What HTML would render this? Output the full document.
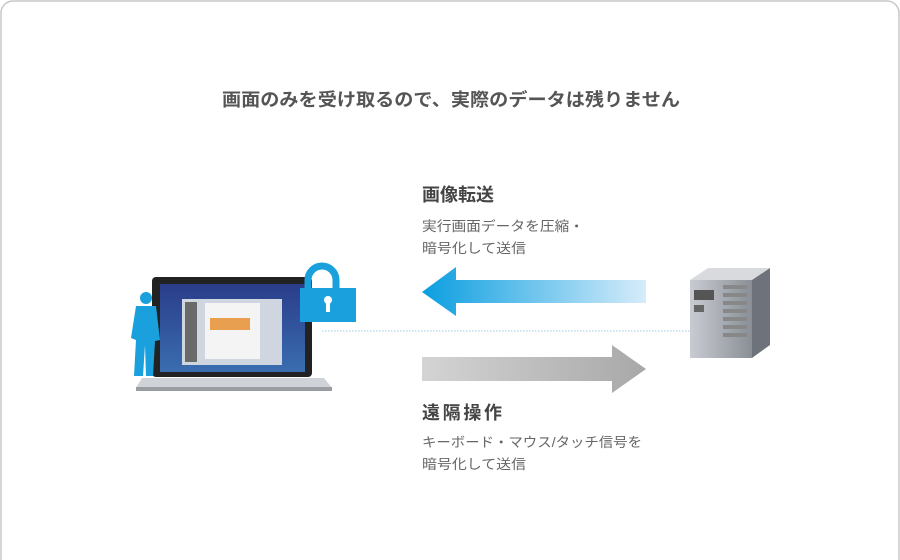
<!DOCTYPE html>
<html><head><meta charset="utf-8"><style>
body{margin:0;width:900px;height:560px;background:#fff;overflow:hidden;font-family:"Liberation Sans","Noto Sans CJK JP",sans-serif}
</style></head><body>
<svg width="900" height="560" xmlns="http://www.w3.org/2000/svg" style="position:absolute;left:0;top:0">
<defs>
<linearGradient id="bl" x1="0" x2="1"><stop offset="0" stop-color="#0a9ee0"/><stop offset="1" stop-color="#d6ecfa"/></linearGradient>
<linearGradient id="gr" x1="0" x2="1"><stop offset="0" stop-color="#d4d4d4"/><stop offset="1" stop-color="#a8a8a8"/></linearGradient>
<linearGradient id="sv" x1="0" x2="1"><stop offset="0" stop-color="#c9ccd2"/><stop offset="1" stop-color="#8a8e96"/></linearGradient>
<linearGradient id="sc" x1="0" y1="0" x2="0" y2="1"><stop offset="0" stop-color="#2a3d8a"/><stop offset="1" stop-color="#3a6db0"/></linearGradient>
</defs>
<rect x="1" y="1" width="898" height="570" rx="12" fill="#fff" stroke="#c8c8c8" stroke-width="1.5"/>
<text x="222" y="106" font-size="18" font-weight="bold" fill="#555" textLength="458" lengthAdjust="spacingAndGlyphs">画面のみを受け取るので、実際のデータは残りません</text>
<text x="422" y="201" font-size="18" font-weight="bold" fill="#444" textLength="72">画像転送</text>
<text x="422" y="231" font-size="13.5" fill="#666" textLength="162" lengthAdjust="spacingAndGlyphs">実行画面データを圧縮・</text>
<text x="422" y="253" font-size="13.5" fill="#666" textLength="104" lengthAdjust="spacingAndGlyphs">暗号化して送信</text>
<text x="422" y="419" font-size="18" font-weight="bold" fill="#444" textLength="80">遠隔操作</text>
<text x="422" y="447" font-size="13.5" fill="#666" textLength="220" lengthAdjust="spacingAndGlyphs">キーボード・マウス/タッチ信号を</text>
<text x="422" y="469" font-size="13.5" fill="#666" textLength="104" lengthAdjust="spacingAndGlyphs">暗号化して送信</text>
<line x1="322" y1="331" x2="695" y2="331" stroke="#9cc8e0" stroke-width="1" stroke-dasharray="1.5 1.5"/>
<polygon points="422,292 456,267 456,280 646,280 646,303 456,303 456,316" fill="url(#bl)"/>
<polygon points="422,357 612,357 612,345 646,369 612,393 612,381 422,381" fill="url(#gr)"/>
<polygon points="690,280 708,268 770,268 752,280" fill="#d8dade"/>
<polygon points="752,280 770,268 770,345 752,358" fill="#6e727a"/>
<rect x="690" y="280" width="62" height="78" fill="url(#sv)"/>
<rect x="694" y="290" width="20" height="10" fill="#555"/>
<rect x="694" y="305" width="10" height="7" fill="#666"/>
<g fill="#888"><rect x="723" y="285" width="24" height="4"/><rect x="723" y="293" width="24" height="4"/><rect x="723" y="301" width="24" height="4"/><rect x="723" y="309" width="24" height="4"/><rect x="723" y="317" width="24" height="4"/><rect x="723" y="325" width="24" height="4"/><rect x="723" y="333" width="24" height="4"/></g>
<rect x="152" y="277" width="160" height="100" rx="4" fill="#222"/>
<rect x="160" y="284" width="145" height="88" fill="url(#sc)"/>
<rect x="182" y="299" width="100" height="66" fill="#cfd6e0"/>
<rect x="205" y="303" width="55" height="56" fill="#f4f4f4"/>
<rect x="210" y="318" width="40" height="12" fill="#e8a050"/>
<rect x="185" y="302" width="12" height="60" fill="#6a6a6a"/>
<polygon points="142,378 324,378 332,388 136,388" fill="#cfd2d6"/>
<rect x="136" y="387" width="196" height="4" fill="#9a9da2"/>
<g fill="#1aa0dc">
<circle cx="146" cy="298" r="6"/>
<path d="M136 306 L156 306 L160 340 L155 341 L153 376 L146 376 L145 345 L143 376 L134 376 L136 340 L131 338 Z"/>
</g>
<path d="M308 290 V280 a14 14 0 0 1 28 0 V290" fill="none" stroke="#1aa0dc" stroke-width="7"/>
<rect x="300" y="288" width="56" height="34" fill="#1aa0dc"/>
<circle cx="328" cy="300" r="4" fill="#fff"/>
<rect x="326" y="301" width="4" height="11" fill="#fff"/>
</svg>
</body></html>
